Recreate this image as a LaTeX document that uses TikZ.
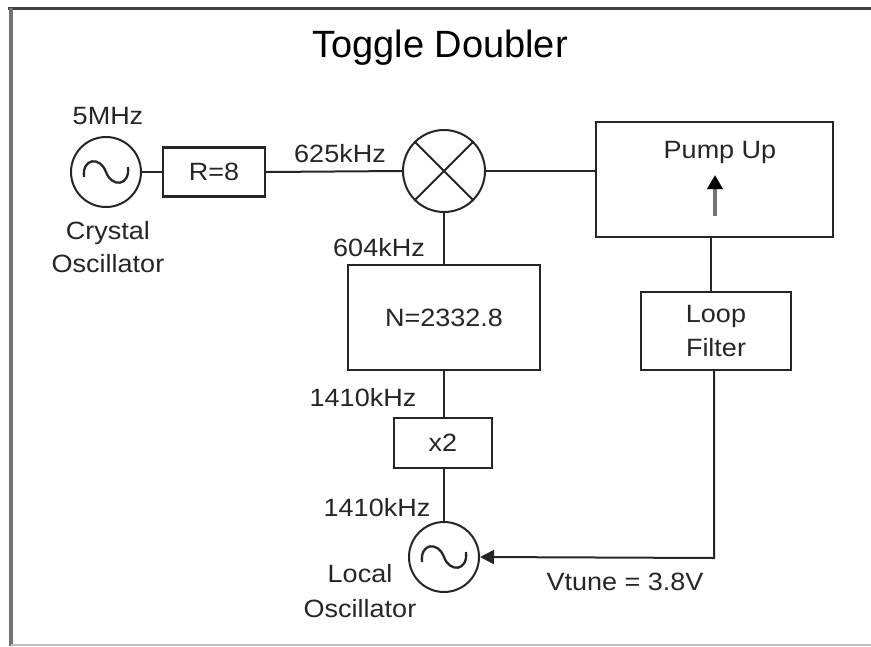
\documentclass[tikz,border=0pt]{standalone}
\usepackage{fontspec}
\setmainfont{Liberation Sans}[FakeStretch=1.08]
\newfontfamily\titlefont{Liberation Sans}
\usetikzlibrary{arrows.meta}
\begin{document}
\begin{tikzpicture}[x=1pt,y=-1pt,
  wire/.style={line width=2pt,black!85},
  wave/.style={line width=2.3pt,black!85},
  blk/.style={draw=black!85,line width=2.4pt,fill=white,inner sep=0pt},
  circ/.style={draw=black!85,line width=2pt,circle,inner sep=0pt,minimum size=70pt,fill=white},
  lbl/.style={font=\fontsize{25}{29}\selectfont,text=black!85,inner sep=0pt,align=center}]
\useasboundingbox (0,0) rectangle (871,646);
\fill[white] (0,0) rectangle (871,646);
% frame
\draw[line width=3pt,black!75] (8,8) -- (871,8);
\draw[line width=4pt,black!55] (11,8) -- (11,646);
\draw[line width=2pt,black!25] (11,645) -- (871,645);
% title
\node[inner sep=0pt,font=\titlefont\fontsize{38}{44}\selectfont] (title) at (440,48) {Toggle Doubler};
% crystal oscillator
\node[circ] (xo) at (106,172) {};
\draw[wave] ([xshift=-22pt,yshift=-5pt]xo.center) .. controls ([xshift=-24pt,yshift=14pt]xo.center) and ([xshift=-6pt,yshift=16pt]xo.center) .. (xo.center) .. controls ([xshift=6pt,yshift=-16pt]xo.center) and ([xshift=24pt,yshift=-14pt]xo.center) .. ([xshift=22pt,yshift=5pt]xo.center);
\node[lbl] (f5) at (108,116) {5MHz};
\node[lbl] (xol) at (108,247) {Crystal\\[4pt]Oscillator};
% R=8
\node[blk,minimum width=102pt,minimum height=49pt,lbl] (r8) at (214,172) {R=8};
% mixer
\node[circ,minimum size=82pt] (mix) at (444,171) {};
\draw[wire] (mix.north west) -- (mix.south east);
\draw[wire] (mix.north east) -- (mix.south west);
\node[lbl] (f625) at (340,154) {625kHz};
\node[lbl] (f604) at (379,248) {604kHz};
% pump up
\node[blk,minimum width=237pt,minimum height=115pt] (pump) at (714.5,179.5) {};
\node[lbl] (pumpl) at (720,152) {Pump Up};
\coordinate (pa0) at (715,216);
\coordinate (pa1) at (715,175);
\draw[line width=3.5pt,black!55,-{Triangle[length=14pt,width=15pt,fill=black,color=black]}] (pa0) -- (pa1);
% N box
\node[blk,minimum width=192pt,minimum height=105pt,lbl] (nbox) at (444,317.5) {N=2332.8};
% loop filter
\node[blk,minimum width=150pt,minimum height=78pt,lbl] (lf) at (716,331) {Loop\\[5pt]Filter};
% x2
\node[blk,minimum width=98pt,minimum height=50pt,lbl] (x2) at (443,443) {x2};
\node[lbl] (f1410a) at (363,398) {1410kHz};
\node[lbl] (f1410b) at (377,508) {1410kHz};
% local oscillator
\node[circ] (lo) at (444,557) {};
\draw[wave] ([xshift=-22pt,yshift=-5pt]lo.center) .. controls ([xshift=-24pt,yshift=14pt]lo.center) and ([xshift=-6pt,yshift=16pt]lo.center) .. (lo.center) .. controls ([xshift=6pt,yshift=-16pt]lo.center) and ([xshift=24pt,yshift=-14pt]lo.center) .. ([xshift=22pt,yshift=5pt]lo.center);
\node[lbl] (lol) at (360,591) {Local\\[6pt]Oscillator};
\node[lbl] (vt) at (625,582) {Vtune = 3.8V};
% wires
\draw[wire] (xo.east) -- (r8.west);
\draw[wire] (r8.east) -- (mix.west);
\draw[wire] (mix.east) -- (pump.west |- mix.east);
\draw[wire] (mix.south) -- (mix.south |- nbox.north);
\draw[wire] (pump.south -| 711,0) -- (711,0 |- lf.north);
\draw[wire] (nbox.south -| 444,0) -- (444,0 |- x2.north);
\draw[wire] (x2.south -| 444,0) -- (lo.north);
\coordinate (corner) at (714,558);
\draw[wire,-{Triangle[length=14pt,width=14pt]}] (lf.south -| corner) -- (corner) -- (lo.east);
\end{tikzpicture}
\end{document}
